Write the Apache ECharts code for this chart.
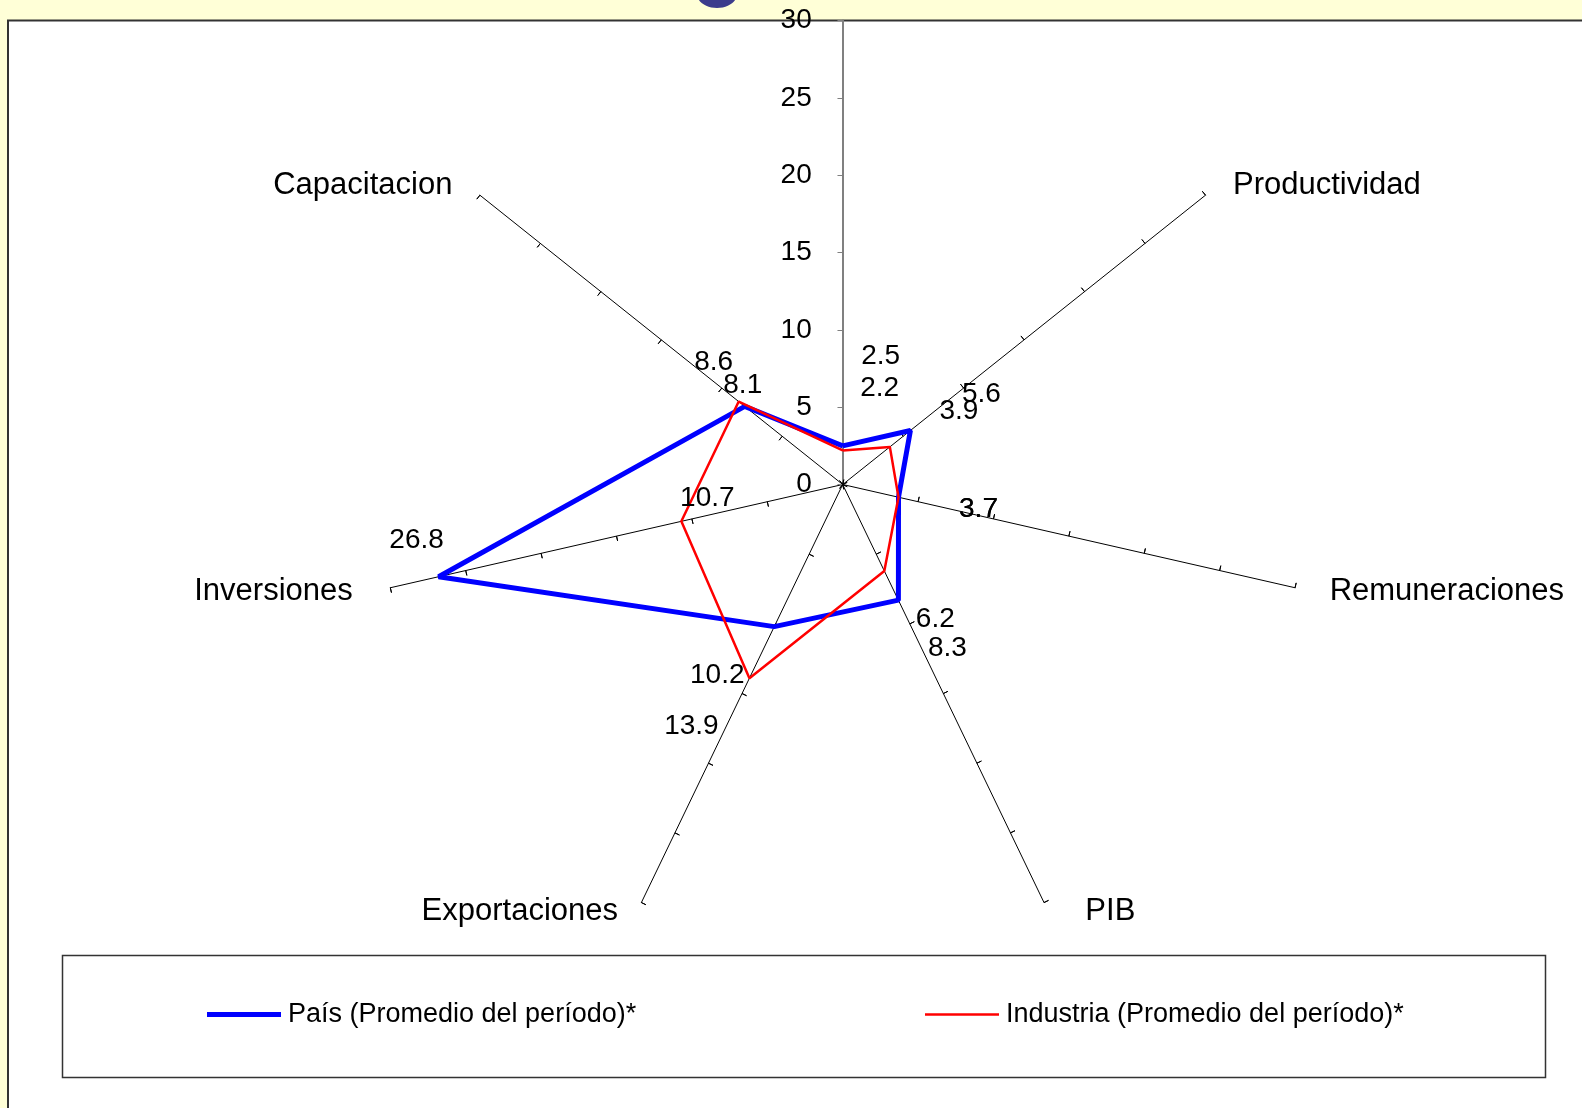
<!DOCTYPE html>
<html>
<head>
    <meta charset="utf-8">
    <title>Radar País / Industria</title>
    <style>
        html, body { margin: 0; padding: 0; background: #FFFFD7; }
    </style>
</head>
<body>
    <div id="main" style="width: 1582px; height: 1108px;"></div>
    <script src="https://cdn.jsdelivr.net/npm/echarts@6.0.0/dist/echarts.min.js"></script>
    <script type="text/javascript">
        // categorias en sentido horario empezando arriba (el eje de arriba no tiene nombre visible)
        var categorias = ['', 'Productividad', 'Remuneraciones', 'PIB', 'Exportaciones', 'Inversiones', 'Capacitacion'];
        var pais = [2.5, 5.6, 3.7, 8.3, 10.2, 26.8, 8.1];
        var industria = [2.2, 3.9, 3.7, 6.2, 13.9, 10.7, 8.6];
        var valorMax = 30;
        var nombrePais = 'País (Promedio del período)*';
        var nombreIndustria = 'Industria (Promedio del período)*';

        // donde Excel dejo las etiquetas respecto a cada punto (px)
        var offPais = [[38, -90], [71, -36], [80, 12], [49, 48], [-57, 49], [-22, -36], [-2, -21]];
        var offIndustria = [[37, -62], [69, -36], [80, 12], [51, 48], [-58, 48], [26, -23], [-25, -39]];
        // ajuste de los nombres (el original esta un poco estirado a lo ancho)
        var paddingNombre = {
            'Productividad': [0, 0, 0, 15],
            'Remuneraciones': [0, 0, 0, 19],
            'PIB': [0, 0, 0, 37],
            'Exportaciones': [0, 19, 0, 0],
            'Inversiones': [0, 22, 0, 0],
            'Capacitacion': [0, 15, 0, 0]
        };
        var gapNombre = { 'PIB': 10, 'Exportaciones': 10 };

        var fuente = '"Liberation Sans", Arial, sans-serif';
        var centro = [842.7, 484.5];
        var radio = 464;

        var chartDom = document.getElementById('main');
        var myChart = echarts.init(chartDom);

        // el radar de echarts va en sentido antihorario, asi que se invierte el orden
        var ordenRadar = [0];
        for (var k = categorias.length - 1; k > 0; k--) ordenRadar.push(k);

        var indicadores = ordenRadar.map(function (i) {
            var ind = { name: categorias[i], min: 0, max: valorMax };
            if (i === 0) {
                ind.axisLabel = { show: true };
                ind.axisLine = { lineStyle: { color: '#808080', width: 2 } };
            }
            if (paddingNombre[categorias[i]]) {
                ind.nameTextStyle = { padding: paddingNombre[categorias[i]] };
            }
            if (gapNombre[categorias[i]] != null) {
                ind.nameGap = gapNombre[categorias[i]];
            }
            return ind;
        });

        // segundo radar solo para la otra mitad de las marcas (las de Excel cruzan el eje)
        var indicadoresMarcas = ordenRadar.map(function (i) {
            var ind = { name: '', min: 0, max: valorMax };
            if (i === 0) ind.axisLine = { show: false, lineStyle: { color: '#808080' } };
            return ind;
        });

        function serie(nombre, valores, offs, color, ancho, z) {
            var paso = 360 / valores.length;
            var datos = valores.map(function (v, i) {
                return { value: [v, i * paso], label: { offset: offs[i] } };
            });
            // cerrar el poligono
            datos.push({ value: [valores[0], 360], label: { show: false } });
            return {
                name: nombre,
                type: 'line',
                coordinateSystem: 'polar',
                data: datos,
                symbol: 'circle',
                symbolSize: 1,
                showSymbol: true,
                lineStyle: { color: color, width: ancho },
                itemStyle: { color: color },
                label: {
                    show: true,
                    position: 'inside',
                    color: '#000',
                    fontSize: 28,
                    fontFamily: fuente,
                    formatter: function (p) { return p.value[0].toFixed(1); }
                },
                emphasis: { disabled: true },
                z: z
            };
        }

        var leyendaBase = {
            top: 1001,
            itemWidth: 74,
            icon: 'rect',
            padding: 0,
            selectedMode: false,
            textStyle: { fontSize: 27, color: '#000', fontFamily: fuente, padding: [0, 0, 0, 2] }
        };

        var option = {
            backgroundColor: '#FFFFD7',
            animation: false,
            graphic: [
                {
                    type: 'ellipse',
                    shape: { cx: 717, cy: -6, rx: 20, ry: 14 },
                    style: { fill: '#3C3C8C' },
                    z: -3
                },
                {
                    type: 'rect',
                    shape: { x: 8, y: 20.5, width: 1700, height: 1200 },
                    style: { fill: '#fff', stroke: '#333', lineWidth: 2 },
                    z: -2
                },
                {
                    type: 'rect',
                    shape: { x: 62.5, y: 955.5, width: 1483, height: 122 },
                    style: { fill: '#fff', stroke: '#333', lineWidth: 1.5 },
                    z: -1
                }
            ],
            radar: [
                {
                    center: centro,
                    radius: radio,
                    startAngle: 90,
                    splitNumber: 6,
                    shape: 'polygon',
                    indicator: indicadores,
                    axisNameGap: 16,
                    axisName: { color: '#000', fontSize: 31, fontFamily: fuente },
                    axisLine: { lineStyle: { color: '#000', width: 1 } },
                    axisTick: { show: true, length: 5 },
                    axisLabel: { show: false, color: '#000', fontSize: 28, fontFamily: fuente, margin: 31 },
                    splitLine: { show: false },
                    splitArea: { show: false }
                },
                {
                    center: centro,
                    radius: radio,
                    startAngle: 90,
                    splitNumber: 6,
                    shape: 'polygon',
                    indicator: indicadoresMarcas,
                    axisName: { show: false },
                    axisLine: { show: false, lineStyle: { color: '#000', width: 1 } },
                    axisTick: { show: true, inside: true, length: 5 },
                    axisLabel: { show: false },
                    splitLine: { show: false },
                    splitArea: { show: false }
                }
            ],
            polar: { center: centro, radius: radio },
            angleAxis: { type: 'value', min: 0, max: 360, startAngle: 90, clockwise: true, show: false },
            radiusAxis: { type: 'value', min: 0, max: valorMax, show: false },
            legend: [
                Object.assign({}, leyendaBase, { left: 207, data: [nombrePais], itemHeight: 5 }),
                Object.assign({}, leyendaBase, { left: 925, data: [nombreIndustria], itemHeight: 2.5 })
            ],
            series: [
                serie(nombrePais, pais, offPais, '#0000FF', 5, 3),
                serie(nombreIndustria, industria, offIndustria, '#FF0000', 2.5, 4)
            ]
        };

        myChart.setOption(option);
    </script>
</body>
</html>
